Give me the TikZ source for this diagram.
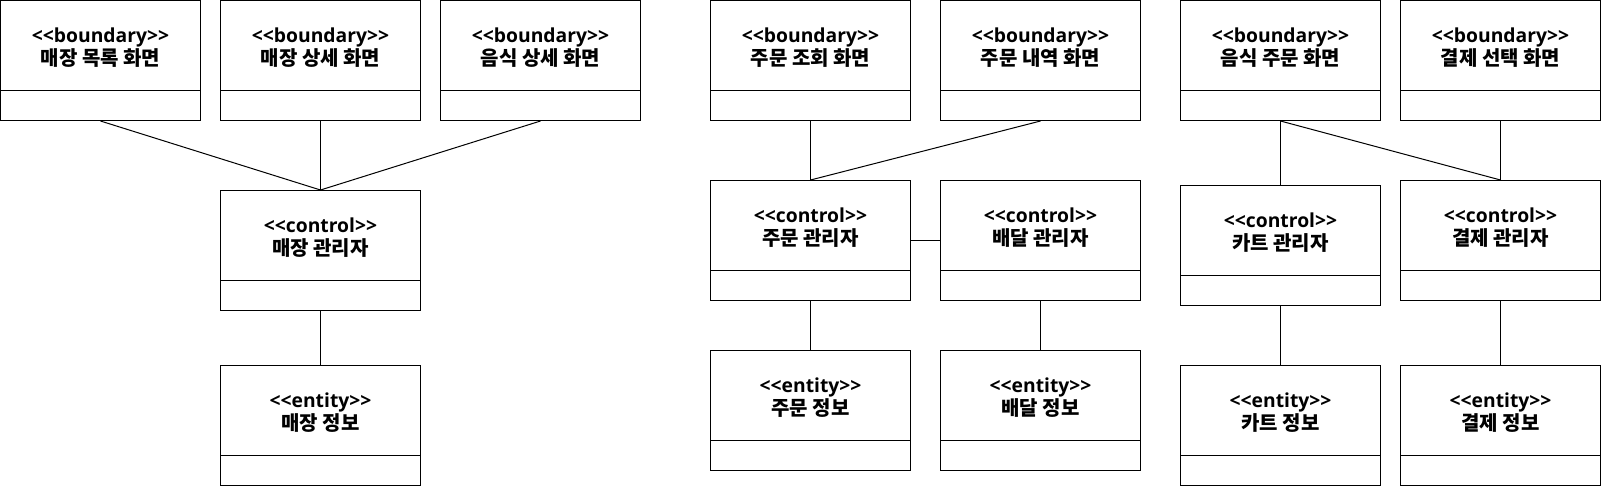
\documentclass[tikz,border=0pt]{standalone}
\usepackage{fontspec}
\setmainfont{Open Sans}[Scale=0.965, Ligatures=TeXOff]
\newfontfamily\kr{Noto Sans CJK KR}
\tikzset{
  umlbox/.style={draw, line width=0.75pt, minimum width=150pt, minimum height=90pt, inner sep=0pt,
    path picture={\draw[line width=0.75pt] ([yshift=22.5pt]path picture bounding box.south west) -- ([yshift=22.5pt]path picture bounding box.south east);}},
  lbl/.style={anchor=base, inner sep=0pt, font=\bfseries\fontsize{15pt}{17.5pt}\selectfont},
  conn/.style={draw, line width=0.75pt}
}
\newcommand{\umlnode}[4]{%
  \node[umlbox] (#1) at (#2) {};
  \node[lbl] (#1-s) at ([yshift=-31.5pt]#1.north) {<<#3>>};
  \node[lbl] (#1-t) at ([yshift=-49pt]#1.north) {\kr #4};
}
\begin{document}
\begin{tikzpicture}[x=0.75pt,y=-0.75pt]
\useasboundingbox (-0.5,-0.5) rectangle (1600.5,486.5);
% group 1
\umlnode{a}{100,60}{boundary}{매장 목록 화면}
\umlnode{b}{320,60}{boundary}{매장 상세 화면}
\umlnode{c}{540,60}{boundary}{음식 상세 화면}
\umlnode{mc}{320,250}{control}{매장 관리자}
\umlnode{me}{320,425}{entity}{매장 정보}
% group 2
\umlnode{oq}{810,60}{boundary}{주문 조회 화면}
\umlnode{oh}{1040,60}{boundary}{주문 내역 화면}
\umlnode{oc}{810,240}{control}{주문 관리자}
\umlnode{dc}{1040,240}{control}{배달 관리자}
\umlnode{oe}{810,410}{entity}{주문 정보}
\umlnode{de}{1040,410}{entity}{배달 정보}
% group 3
\umlnode{fo}{1280,60}{boundary}{음식 주문 화면}
\umlnode{ps}{1500,60}{boundary}{결제 선택 화면}
\umlnode{cc}{1280,245}{control}{카트 관리자}
\umlnode{pc}{1500,240}{control}{결제 관리자}
\umlnode{ce}{1280,425}{entity}{카트 정보}
\umlnode{pe}{1500,425}{entity}{결제 정보}
% connectors
\path[conn] (a.south) -- (mc.north);
\path[conn] (b.south) -- (mc.north);
\path[conn] (c.south) -- (mc.north);
\path[conn] (mc.south) -- (me.north);
\path[conn] (oq.south) -- (oc.north);
\path[conn] (oh.south) -- (oc.north);
\path[conn] (oc.east) -- (dc.west);
\path[conn] (oc.south) -- (oe.north);
\path[conn] (dc.south) -- (de.north);
\path[conn] (fo.south) -- (cc.north);
\path[conn] (fo.south) -- (pc.north);
\path[conn] (ps.south) -- (pc.north);
\path[conn] (cc.south) -- (ce.north);
\path[conn] (pc.south) -- (pe.north);
\end{tikzpicture}
\end{document}
